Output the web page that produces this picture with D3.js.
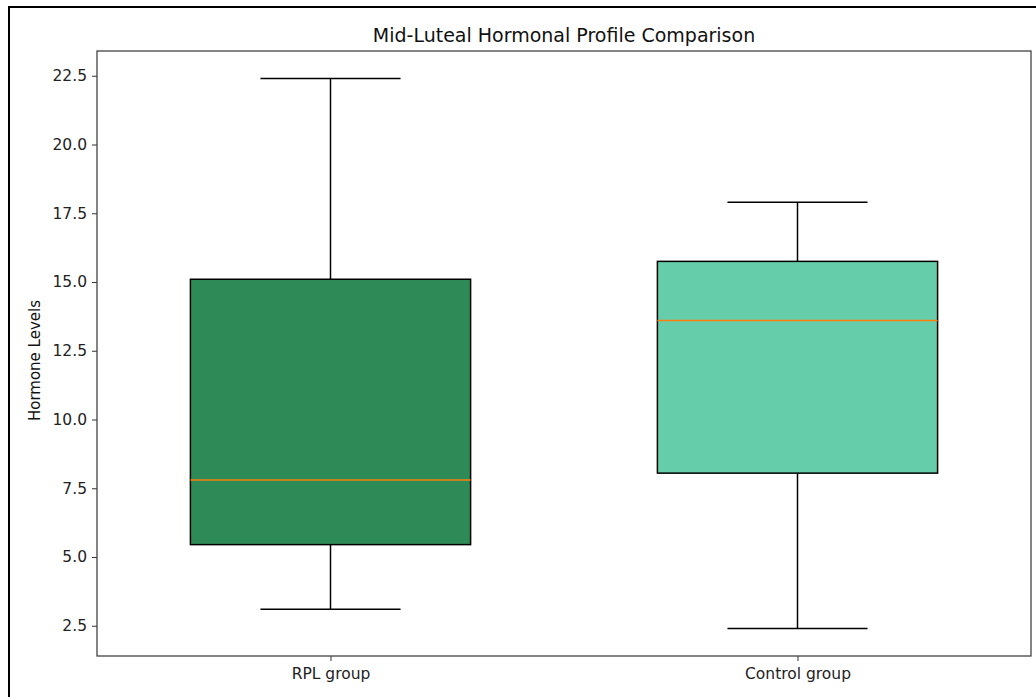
<!DOCTYPE html>
<html>
<head>
<meta charset="utf-8">
<script src="https://cdn.jsdelivr.net/npm/d3@7"></script>
<style>
  html, body { margin: 0; padding: 0; background: #fff; }
  svg { display: block; font-family: "DejaVu Sans", sans-serif; }
</style>
</head>
<body>
<svg id="chart" width="1036" height="697"></svg>
<script>
// Group labels and five-number summaries of hormone levels
const groups = ["RPL group", "Control group"];
const whiskerLow = [3.1, 2.4];
const q1 = [5.45, 8.05];
const medians = [7.8, 13.6];
const q3 = [15.1, 15.75];
const whiskerHigh = [22.4, 17.9];
const fills = ["#2e8b57", "#66cdaa"];
const yTicks = [2.5, 5.0, 7.5, 10.0, 12.5, 15.0, 17.5, 20.0, 22.5];

const svg = d3.select("#chart");
const W = 1036, H = 697;
const plot = { left: 97, top: 51, right: 1031, bottom: 656 };

// figure frame
svg.append("rect")
  .attr("x", 9).attr("y", 7)
  .attr("width", W + 20).attr("height", H + 20)
  .attr("fill", "none").attr("stroke", "#000").attr("stroke-width", 2);

const lo = d3.min(whiskerLow), hi = d3.max(whiskerHigh);
const pad = (hi - lo) * 0.05;
const y = d3.scaleLinear().domain([lo - pad, hi + pad]).range([plot.bottom, plot.top]);
const x = d3.scaleLinear().domain([0.5, groups.length + 0.5]).range([plot.left, plot.right]);
const unit = x(1) - x(0);
const boxW = 0.6 * unit;
const capW = 0.3 * unit;

const g = svg.append("g");
groups.forEach((name, i) => {
  const cx = x(i + 1);
  // whiskers
  g.append("line").attr("x1", cx).attr("x2", cx)
    .attr("y1", y(whiskerLow[i])).attr("y2", y(q1[i]))
    .attr("stroke", "#000").attr("stroke-width", 1.5);
  g.append("line").attr("x1", cx).attr("x2", cx)
    .attr("y1", y(q3[i])).attr("y2", y(whiskerHigh[i]))
    .attr("stroke", "#000").attr("stroke-width", 1.5);
  // caps
  [whiskerLow[i], whiskerHigh[i]].forEach(v => {
    g.append("line").attr("x1", cx - capW / 2).attr("x2", cx + capW / 2)
      .attr("y1", y(v)).attr("y2", y(v))
      .attr("stroke", "#000").attr("stroke-width", 1.5);
  });
  // box
  g.append("rect")
    .attr("x", cx - boxW / 2).attr("y", y(q3[i]))
    .attr("width", boxW).attr("height", y(q1[i]) - y(q3[i]))
    .attr("fill", fills[i]).attr("stroke", "#000").attr("stroke-width", 1.5);
  // median
  g.append("line").attr("x1", cx - boxW / 2).attr("x2", cx + boxW / 2)
    .attr("y1", y(medians[i])).attr("y2", y(medians[i]))
    .attr("stroke", "#ff7f0e").attr("stroke-width", 1.5);
});

// axes
const yAxis = d3.axisLeft(y).tickValues(yTicks).tickFormat(d3.format(".1f")).tickSize(5).tickPadding(5);
const yg = svg.append("g").attr("transform", `translate(${plot.left},0)`).call(yAxis);
const xAxis = d3.axisBottom(x).tickValues(groups.map((_, i) => i + 1))
  .tickFormat((d) => groups[d - 1]).tickSize(5).tickPadding(7);
const xg = svg.append("g").attr("transform", `translate(0,${plot.bottom})`).call(xAxis);
[yg, xg].forEach(a => {
  a.select(".domain").remove();
  a.selectAll("text").attr("font-size", 15.5).attr("fill", "#222").attr("font-family", "DejaVu Sans, sans-serif");
  a.selectAll("line").attr("stroke", "#333").attr("stroke-width", 1);
});

// plot frame
svg.append("rect")
  .attr("x", plot.left).attr("y", plot.top)
  .attr("width", plot.right - plot.left).attr("height", plot.bottom - plot.top)
  .attr("fill", "none").attr("stroke", "#444").attr("stroke-width", 1.3);

// title and axis label
svg.append("text")
  .attr("x", (plot.left + plot.right) / 2).attr("y", 42)
  .attr("text-anchor", "middle").attr("font-size", 19).attr("fill", "#111")
  .text("Mid-Luteal Hormonal Profile Comparison");
svg.append("text")
  .attr("transform", `translate(40,${(plot.top + plot.bottom) / 2 + 7}) rotate(-90)`)
  .attr("text-anchor", "middle").attr("font-size", 15).attr("fill", "#111")
  .text("Hormone Levels");
</script>
</body>
</html>
